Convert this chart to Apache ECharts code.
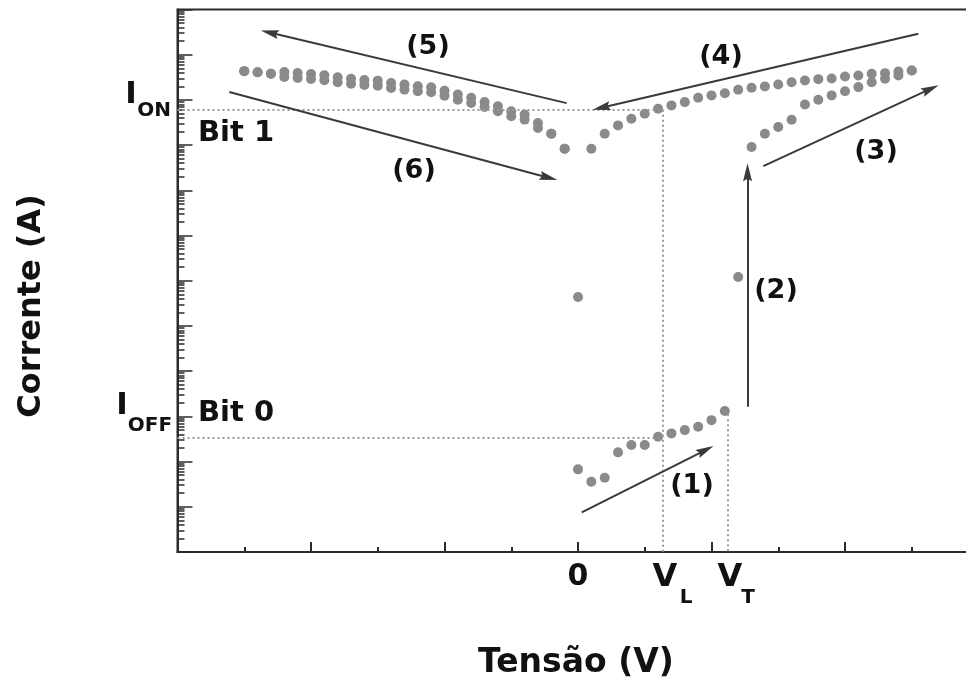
<!DOCTYPE html>
<html><head><meta charset="utf-8">
<script src="https://cdn.jsdelivr.net/npm/echarts@6/dist/echarts.min.js"></script>
<style>html,body{margin:0;padding:0;background:#fff}#c{width:966px;height:678px}</style>
</head><body><div id="c"></div>
<script>
// ---- data (voltage in arbitrary V units, current in A) ----
// Sweep (1)->(2)->(3): from OFF state, 0 V to +V
const sweepUpV = [0,0.1,0.2,0.3,0.4,0.5,0.6,0.7,0.8,0.9,1.0,1.1,1.2,1.3,1.4,1.5,1.6,1.7,1.8,1.9,2.0,2.1,2.2,2.3,2.4,2.5];
const sweepUpI = [6.73e-12,3.58e-12,4.39e-12,1.60e-11,2.32e-11,2.32e-11,3.53e-11,4.20e-11,4.97e-11,5.88e-11,8.26e-11,1.31e-10,1.21e-7,9.06e-5,1.79e-4,2.51e-4,3.65e-4,7.95e-4,1.01e-3,1.26e-3,1.56e-3,1.92e-3,2.47e-3,2.94e-3,3.48e-3,4.49e-3];
// Sweep (4): ON state, +V back to 0
const sweep4V = [2.5,2.4,2.3,2.2,2.1,2.0,1.9,1.8,1.7,1.6,1.5,1.4,1.3,1.2,1.1,1.0,0.9,0.8,0.7,0.6,0.5,0.4,0.3,0.2,0.1,0];
const sweep4I = [4.49e-3,4.26e-3,3.91e-3,3.79e-3,3.48e-3,3.31e-3,2.99e-3,2.88e-3,2.70e-3,2.47e-3,2.20e-3,1.99e-3,1.86e-3,1.68e-3,1.41e-3,1.26e-3,1.12e-3,8.94e-4,7.56e-4,6.39e-4,4.95e-4,3.84e-4,2.73e-4,1.79e-4,8.34e-5,4.39e-8];
// Sweep (5): 0 to -V ; Sweep (6): -V back to 0
const sweep5V = [-0.1,-0.2,-0.3,-0.4,-0.5,-0.6,-0.7,-0.8,-0.9,-1.0,-1.1,-1.2,-1.3,-1.4,-1.5,-1.6,-1.7,-1.8,-1.9,-2.0,-2.1,-2.2,-2.3,-2.4,-2.5];
const sweep5I = [8.34e-5,1.79e-4,3.10e-4,4.74e-4,5.62e-4,7.26e-4,9.03e-4,1.11e-3,1.31e-3,1.60e-3,1.91e-3,2.01e-3,2.18e-3,2.37e-3,2.67e-3,2.77e-3,2.95e-3,3.18e-3,3.51e-3,3.76e-3,3.95e-3,4.16e-3,3.79e-3,4.11e-3,4.33e-3];
const sweep6V = [-2.5,-2.4,-2.3,-2.2,-2.1,-2.0,-1.9,-1.8,-1.7,-1.6,-1.5,-1.4,-1.3,-1.2,-1.1,-1.0,-0.9,-0.8,-0.7,-0.6,-0.5,-0.4,-0.3,-0.2,-0.1];
const sweep6I = [4.33e-3,4.11e-3,3.79e-3,3.22e-3,3.06e-3,2.91e-3,2.72e-3,2.47e-3,2.29e-3,2.15e-3,2.07e-3,1.84e-3,1.69e-3,1.56e-3,1.48e-3,1.24e-3,1.01e-3,8.58e-4,7.00e-4,5.63e-4,4.36e-4,3.67e-4,2.40e-4,1.79e-4,8.34e-5];
// reference levels
const I_ON = 6.07e-4;
const I_OFF = 3.42e-11;
const V_L = 0.637;
const V_T = 1.124;
const I_VT_TOP = 1.12e-10;
// arrows [fromV, fromI, toV, toI]
const arrowFrom = [[0.028,7.53e-13],[1.270,1.63e-10],[1.388,3.44e-5],[2.549,2.90e-2],[-0.085,8.50e-4],[-2.612,1.49e-3]];
const arrowTo   = [[0.955,1.80e-11],[1.270,2.5e-5],[2.640,1.75e-3],[0.175,6.70e-4],[-2.310,3.10e-2],[-0.220,1.90e-5]];
// axis
const xMin = -3, xMax = 3;
const yMin = 1e-13, yMax = 1e-1;

// ---- chart ----
const AX = '#2b2b2b';
const DOT = '#8a8a8a';
const FONT = '"DejaVu Sans", Arial, sans-serif';
const zip = (a, b) => a.map((v, i) => [v, b[i]]);

const chart = echarts.init(document.getElementById('c'));

const dotSeries = (name, vs, is) => ({
  name, type: 'scatter', data: zip(vs, is), symbol: 'circle', symbolSize: 10,
  itemStyle: { color: DOT, opacity: 1 }, silent: true, z: 3
});

const arrowLines = arrowFrom.map((f, i) => [{ coord: f }, { coord: arrowTo[i] }]);
const dottedLines = [
  [{ coord: [xMin, I_ON] }, { coord: [V_L, I_ON] }],
  [{ coord: [V_L, I_ON] }, { coord: [V_L, yMin] }],
  [{ coord: [xMin, I_OFF] }, { coord: [V_L, I_OFF] }],
  [{ coord: [V_T, I_VT_TOP] }, { coord: [V_T, yMin] }]
];

const option = {
  animation: false,
  backgroundColor: '#fff',
  grid: { left: 177.5, right: -12.5, top: 9.5, bottom: 126, outerBoundsMode: 'none', containLabel: false,
          show: true, borderColor: AX, borderWidth: 2, backgroundColor: 'transparent' },
  xAxis: {
    type: 'value', min: xMin, max: xMax, interval: 1,
    axisLine: { onZero: false, lineStyle: { color: AX, width: 2 } },
    axisTick: { inside: true, length: 10, lineStyle: { color: AX, width: 2 } },
    minorTick: { show: true, splitNumber: 2, length: 5, lineStyle: { color: AX, width: 2 } },
    axisLabel: { show: false }, splitLine: { show: false }
  },
  yAxis: {
    type: 'log', logBase: 10, min: yMin, max: yMax, interval: 1,
    axisLine: { onZero: false, lineStyle: { color: AX, width: 2 } },
    axisTick: { inside: true, length: 15, lineStyle: { color: AX, width: 1.5 } },
    minorTick: { show: true, splitNumber: 9, length: 7, lineStyle: { color: AX, width: 1.5 } },
    axisLabel: { show: false }, splitLine: { show: false }
  },
  series: [
    {
      name: 'annotations', type: 'scatter', data: [], silent: true, z: 2,
      markLine: {
        silent: true, animation: false, symbol: ['none', 'none'],
        label: { show: false },
        lineStyle: { color: '#9a9a9a', type: [2, 3], width: 2 },
        data: dottedLines
      }
    },
    {
      name: 'arrows', type: 'scatter', data: [], silent: true, z: 4,
      markLine: {
        silent: true, animation: false,
        symbol: ['none', 'path://M5,0L10,20L5,17L0,20Z'], symbolSize: 18, symbolKeepAspect: true,
        label: { show: false },
        itemStyle: { color: '#3a3a3a' },
        lineStyle: { color: '#3a3a3a', type: 'solid', width: 2 },
        data: arrowLines
      }
    },
    dotSeries('(1)-(3)', sweepUpV, sweepUpI),
    dotSeries('(4)', sweep4V, sweep4I),
    dotSeries('(5)', sweep5V, sweep5I),
    dotSeries('(6)', sweep6V, sweep6I)
  ]
};
chart.setOption(option);

const txt = (text, x, y, size, extra) => Object.assign({
  type: 'text', x, y, silent: true, z: 10,
  style: { text, fontSize: size, fontWeight: 'bold', fontFamily: FONT, fill: '#111', align: 'center', verticalAlign: 'middle' }
}, extra || {});

chart.setOption({
  graphic: [
    txt('(5)', 428, 47, 27),
    txt('(4)', 721, 57, 27),
    txt('(6)', 414, 171, 27),
    txt('(3)', 876, 152, 27),
    txt('(2)', 776, 291, 27),
    txt('(1)', 692, 486, 27),
    { type: 'text', x: 198, y: 133, silent: true, z: 10, style: { text: 'Bit 1', fontSize: 29, fontWeight: 'bold', fontFamily: FONT, fill: '#111', align: 'left', verticalAlign: 'middle' } },
    { type: 'text', x: 198, y: 413, silent: true, z: 10, style: { text: 'Bit 0', fontSize: 29, fontWeight: 'bold', fontFamily: FONT, fill: '#111', align: 'left', verticalAlign: 'middle' } },
    txt('0', 578, 577, 30),
    txt('V', 665, 578, 32),
    txt('L', 686, 598, 20),
    txt('V', 730, 578, 32),
    txt('T', 748, 598, 20),
    txt('I', 131, 95, 31),
    txt('ON', 154, 111, 20),
    txt('I', 122, 406, 31),
    txt('OFF', 150, 426, 20),
    txt('Tensão (V)', 576, 663, 33),
    txt('Corrente (A)', 32, 306, 32, { rotation: Math.PI / 2 })
  ]
});
</script>
</body></html>
